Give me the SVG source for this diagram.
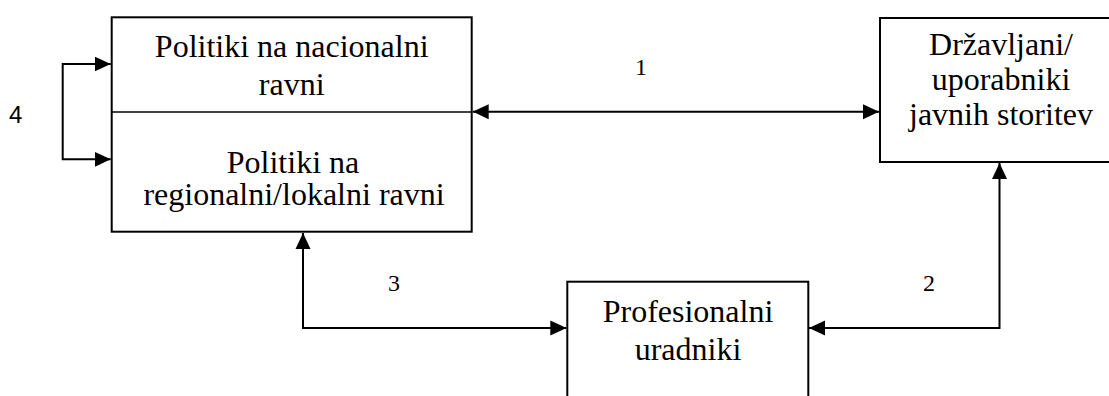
<svg xmlns="http://www.w3.org/2000/svg" width="1109" height="396" viewBox="0 0 1109 396">
  <style>
    .box { fill: #ffffff; stroke: #000000; stroke-width: 2; }
    .div { stroke: #000000; stroke-width: 1.5; fill: none; }
    .conn { stroke: #000000; stroke-width: 2; fill: none; marker-end: url(#arrow); }
    .both { marker-start: url(#arrow); }
    .t { font-family: "Liberation Serif", "Times New Roman", serif; font-size: 32px; fill: #000000; text-anchor: middle; }
    .lbl { font-family: "Liberation Serif", "Times New Roman", serif; font-size: 24px; fill: #000000; text-anchor: middle; }
    .lbls { font-family: "Liberation Sans", Arial, sans-serif; font-size: 24px; fill: #000000; }
  </style>
  <defs>
    <marker id="arrow" markerUnits="userSpaceOnUse" markerWidth="16" markerHeight="16" refX="16" refY="7.5" orient="auto-start-reverse" viewBox="0 0 16 15">
      <path d="M0,0 L16,7.5 L0,15 z" fill="#000000"/>
    </marker>
  </defs>
  <rect width="1109" height="396" fill="#ffffff"/>

  <g id="node-politiki">
    <rect class="box" x="111.7" y="17.3" width="360" height="214.4"/>
    <line class="div" x1="111.7" y1="112" x2="471.7" y2="112"/>
    <text class="t" x="291.7" y="56.7">Politiki na nacionalni</text>
    <text class="t" x="291.7" y="95">ravni</text>
    <text class="t" x="293" y="173.3">Politiki na</text>
    <text class="t" x="294" y="205">regionalni/lokalni ravni</text>
  </g>

  <g id="node-drzavljani">
    <rect class="box" x="880" y="18" width="241" height="144"/>
    <text class="t" x="1001" y="55">Državljani/</text>
    <text class="t" x="1001" y="90">uporabniki</text>
    <text class="t" x="1001" y="125">javnih storitev</text>
  </g>

  <g id="node-profesionalni">
    <rect class="box" x="567.3" y="281.7" width="241" height="130"/>
    <text class="t" x="688" y="321.7">Profesionalni</text>
    <text class="t" x="688" y="360">uradniki</text>
  </g>

  <g id="connectors">
    <path class="conn both" d="M472.7,111.7 H879"/>
    <path class="conn both" d="M809,328 H999.5 V163"/>
    <path class="conn both" d="M303,233 V328 H566.3"/>
    <path class="conn both" d="M110.7,64 H62.7 V159.3 H110.7"/>
  </g>

  <g id="labels">
    <text class="lbl" x="641" y="75">1</text>
    <text class="lbl" x="929" y="291">2</text>
    <text class="lbl" x="394" y="291">3</text>
    <text class="lbls" x="9" y="122.7">4</text>
  </g>
</svg>
